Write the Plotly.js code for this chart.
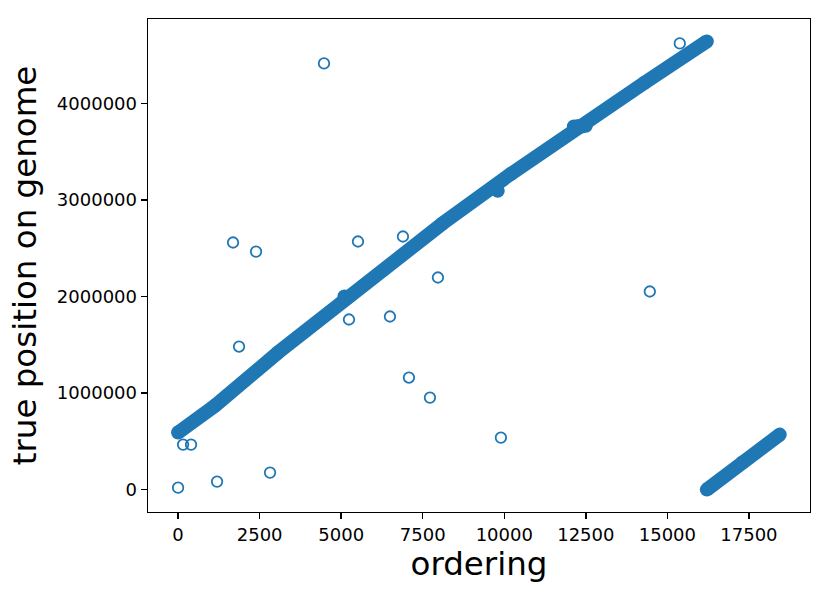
<!DOCTYPE html>
<html>
<head>
<meta charset="utf-8">
<script src="https://cdn.plot.ly/plotly-3.0.1.min.js"></script>
<style>html,body{margin:0;padding:0;background:#fff;}#chart{width:830px;height:597px;}</style>
</head>
<body>
<div id="chart"></div>
<script>
// Dense band of points (main run), read along its centre
const mainX = [0, 1134, 3064, 5178, 8120, 10200, 12256, 14300, 16209];
const mainY = [591000, 870000, 1420000, 1985000, 2760000, 3270000, 3762000, 4215000, 4643000];
// Dense band after wrap-around
const tailX = [16209, 17300, 18445];
const tailY = [0, 280000, 570000];
// Clumps of overlapping points sitting on the band
const clumpX = [12133, 12250, 12380, 12500, 5100, 9800];
const clumpY = [3762000, 3765000, 3762000, 3768000, 2000000, 3095000];
// Isolated points
const outX = [0, 153, 398, 1195, 2819, 1869, 5239, 6495, 7077, 7721, 7966, 9896, 14461, 15380, 4473, 1685, 2390, 5515, 6893];
const outY = [20000, 466000, 466000, 83000, 176000, 1482000, 1762000, 1793000, 1161000, 953000, 2197000, 539000, 2052000, 4622000, 4415000, 2560000, 2466000, 2570000, 2622000];
const xTicks = [0, 2500, 5000, 7500, 10000, 12500, 15000, 17500];
const yTicks = [0, 1000000, 2000000, 3000000, 4000000];

const blue = '#1f77b4';
const band = 14;
const traces = [
  {x: mainX, y: mainY, mode: 'lines+markers', line: {color: blue, width: band}, marker: {color: blue, size: band}, hoverinfo: 'skip'},
  {x: tailX, y: tailY, mode: 'lines+markers', line: {color: blue, width: band}, marker: {color: blue, size: band}, hoverinfo: 'skip'},
  {x: clumpX, y: clumpY, mode: 'markers', marker: {color: blue, size: band}, hoverinfo: 'skip'},
  {x: outX, y: outY, mode: 'markers', marker: {symbol: 'circle-open', color: blue, size: 10.5, line: {width: 1.8, color: blue}}}
];
const axisCommon = {
  showline: true, mirror: true, linecolor: '#000', linewidth: 1.4,
  ticks: 'outside', ticklen: 6, tickwidth: 1.4, tickcolor: '#000',
  showgrid: false, zeroline: false, tickfont: {size: 18, color: '#000'},
  tickformat: 'd', automargin: false
};
const layout = {
  width: 830, height: 597,
  margin: {l: 148, r: 20, t: 19, b: 85},
  paper_bgcolor: '#fff', plot_bgcolor: '#fff',
  font: {family: 'DejaVu Sans', color: '#000'},
  showlegend: false,
  xaxis: Object.assign({}, axisCommon, {
    range: [-922, 19372], tickvals: xTicks, ticktext: xTicks.map(String),
    title: {text: 'ordering', font: {size: 32.5}, standoff: 6}
  }),
  yaxis: Object.assign({}, axisCommon, {
    range: [-232000, 4875000], tickvals: yTicks, ticktext: yTicks.map(String),
    title: {text: 'true position on genome', font: {size: 32.5}, standoff: 10}
  })
};
Plotly.newPlot('chart', traces, layout, {staticPlot: true});
</script>
</body>
</html>
